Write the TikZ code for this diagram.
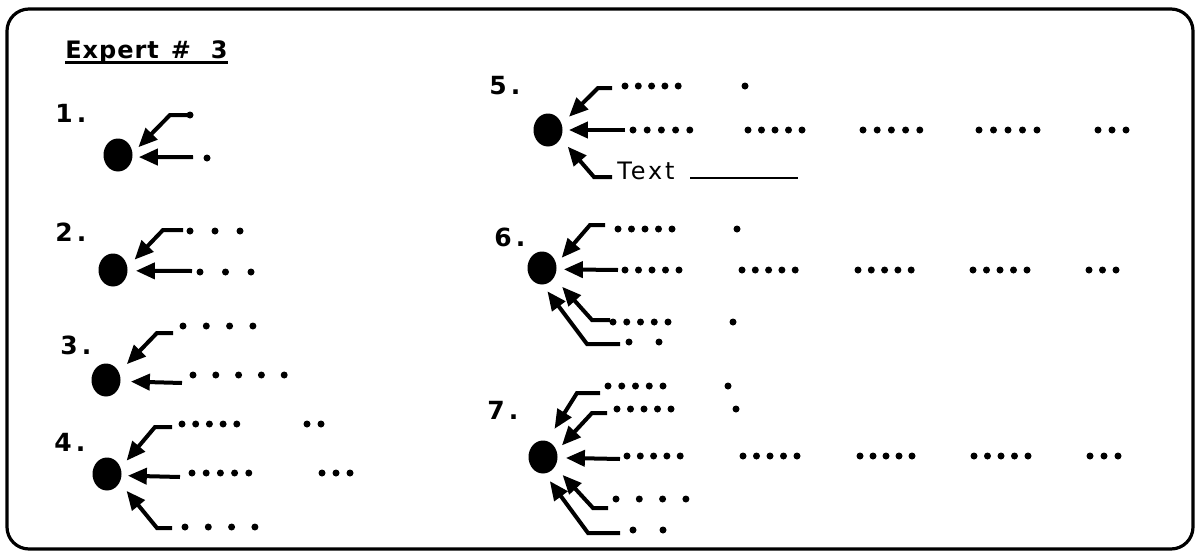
\documentclass[tikz,border=0pt]{standalone}
\usepackage{fontspec}
\setsansfont{DejaVu Sans}
\newfontfamily\headfont[LetterSpace=4]{DejaVu Sans}
\newfontfamily\notefont[LetterSpace=12]{DejaVu Sans}
\usetikzlibrary{arrows.meta,shapes.geometric}

% a run of dots: y, first x, step, count
\newcommand{\dotrun}[4]{\foreach \k in {1,...,#4} \fill ({#2+(\k-1)*#3},#1) circle[radius=1.75pt];}

\begin{document}
\begin{tikzpicture}[
  x=0.5pt, y=-0.5pt,
  bullet/.style={ellipse, fill, inner sep=0pt, minimum width=14.5pt, minimum height=16.5pt},
  feed/.style={line width=2pt, -{Triangle[length=9.5pt,width=8pt]}, shorten >=#1},
  feed/.default=4pt,
  num/.style={anchor=base west, inner sep=0pt, font=\headfont\fontsize{12.5}{14}\selectfont\bfseries}
]
\useasboundingbox (0,0) rectangle (1195,552);
\draw[line width=1.6pt, rounded corners=11pt] (7,9) rectangle (1193,549);

\node[anchor=base west, inner sep=0pt, font=\headfont\fontsize{12}{14}\selectfont\bfseries] (title) at (65,58) {Expert\hspace{6pt}\#\hspace{10pt}3};
\draw[line width=1.5pt] ([yshift=-2pt]title.base west) -- ([yshift=-2pt]title.base east);

% 1
\node[num] (n1) at (55,122) {1\hspace{2pt}.};
\node[bullet] (b1) at (118,155) {};
\coordinate (e1a) at (190,115);
\coordinate (e1b) at (193,157);
\draw[feed] (e1a) -- (170,115) -- (b1.8);
\draw[feed=3pt] (e1b) -- (b1.-8);
\dotrun{115}{190}{0}{1}
\dotrun{158}{207}{0}{1}

% 2
\node[num] (n2) at (55,241) {2\hspace{2pt}.};
\node[bullet] (b2) at (113,270) {};
\coordinate (e2a) at (183,230);
\coordinate (e2b) at (192,271);
\draw[feed=5pt] (e2a) -- (163,230) -- (b2.12);
\draw[feed] (e2b) -- (b2.-3);
\dotrun{231}{190}{25}{3}
\dotrun{272}{200}{25.5}{3}

% 3
\node[num] (n3) at (60,354) {3\hspace{2pt}.};
\node[bullet] (b3) at (106,380) {};
\coordinate (e3a) at (173,333);
\coordinate (e3b) at (182,383);
\draw[feed=5.5pt] (e3a) -- (157,333) -- (b3.31);
\draw[feed=5pt] (e3b) -- (b3.-5);
\dotrun{326}{183}{23.3}{4}
\dotrun{375}{193}{22.8}{5}

% 4
\node[num] (n4) at (54,451) {4\hspace{2pt}.};
\node[bullet] (b4) at (107,474) {};
\coordinate (e4a) at (172,427);
\coordinate (e4b) at (180,477);
\coordinate (e4c) at (172,528);
\draw[feed=4.5pt] (e4a) -- (155,427) -- (b4.25);
\draw[feed=3pt] (e4b) -- (b4.-6);
\draw[feed=5.3pt] (e4c) -- (157,528) -- (b4.-34);
\dotrun{424}{182}{13.7}{5} \dotrun{424}{307}{14}{2}
\dotrun{473}{192}{14.2}{5} \dotrun{473}{322}{14}{3}
\dotrun{527}{185}{23.3}{4}

% 5
\node[num] (n5) at (489,94) {5\hspace{2pt}.};
\node[bullet] (b5) at (548,130) {};
\coordinate (e5a) at (612,88);
\coordinate (e5b) at (625,130);
\coordinate (e5c) at (612,177);
\draw[feed=5pt] (e5a) -- (598,88) -- (b5.24);
\draw[feed=3pt] (e5b) -- (b5.0);
\draw[feed=5.3pt] (e5c) -- (594,177) -- (b5.-34);
\dotrun{86}{625}{13.3}{5} \dotrun{86}{745}{0}{1}
\dotrun{130}{633}{14.2}{5} \dotrun{130}{748}{13.5}{5} \dotrun{130}{863}{14.2}{5}
\dotrun{130}{979}{14.5}{5} \dotrun{130}{1098}{14}{3}
\node[anchor=base west, inner sep=0pt, font=\notefont\fontsize{12}{14}\selectfont] (txt) at (617,179) {Text};
\draw[line width=1.4pt] (690,178) -- (798,178);

% 6
\node[num] (n6) at (494,246) {6\hspace{2pt}.};
\node[bullet] (b6) at (542,268) {};
\coordinate (e6a) at (605,225);
\coordinate (e6b) at (618,270);
\coordinate (e6c) at (610,320);
\coordinate (e6d) at (620,344);
\draw[feed] (e6a) -- (590,225) -- (b6.16);
\draw[feed=3.5pt] (e6b) -- (b6.-5);
\draw[feed=6pt] (e6c) -- (592,320) -- (b6.-39);
\draw[feed] (e6d) -- (587,344) -- (b6.-88);
\dotrun{229}{618}{13.5}{5} \dotrun{229}{737}{0}{1}
\dotrun{270}{625}{13.5}{5} \dotrun{270}{742}{13.3}{5} \dotrun{270}{858}{13.3}{5}
\dotrun{270}{973}{13.5}{5} \dotrun{270}{1089}{13.5}{3}
\dotrun{322}{613}{13.75}{5} \dotrun{322}{733}{0}{1}
\dotrun{342}{629}{30}{2}

% 7
\node[num] (n7) at (487,419) {7\hspace{2pt}.};
\node[bullet] (b7) at (543,457) {};
\coordinate (e7a) at (600,393);
\coordinate (e7b) at (607,413);
\coordinate (e7c) at (620,459);
\coordinate (e7d) at (608,508);
\coordinate (e7e) at (620,533);
\draw[feed=7pt] (e7a) -- (577,393) -- (b7.76);
\draw[feed=3.7pt] (e7b) -- (592,413) -- (b7.24);
\draw[feed] (e7c) -- (b7.-3);
\draw[feed=5.5pt] (e7d) -- (593,508) -- (b7.-39);
\draw[feed=4.5pt] (e7e) -- (588,533) -- (b7.-85);
\dotrun{386}{608}{13.75}{5} \dotrun{386}{728}{0}{1}
\dotrun{409}{617}{13.5}{5} \dotrun{409}{736}{0}{1}
\dotrun{456}{627}{13.3}{5} \dotrun{456}{743}{13.5}{5} \dotrun{456}{860}{13}{5}
\dotrun{456}{974}{13.5}{5} \dotrun{456}{1090}{14}{3}
\dotrun{499}{616}{23.3}{4}
\dotrun{530}{633}{30}{2}
\end{tikzpicture}
\end{document}
